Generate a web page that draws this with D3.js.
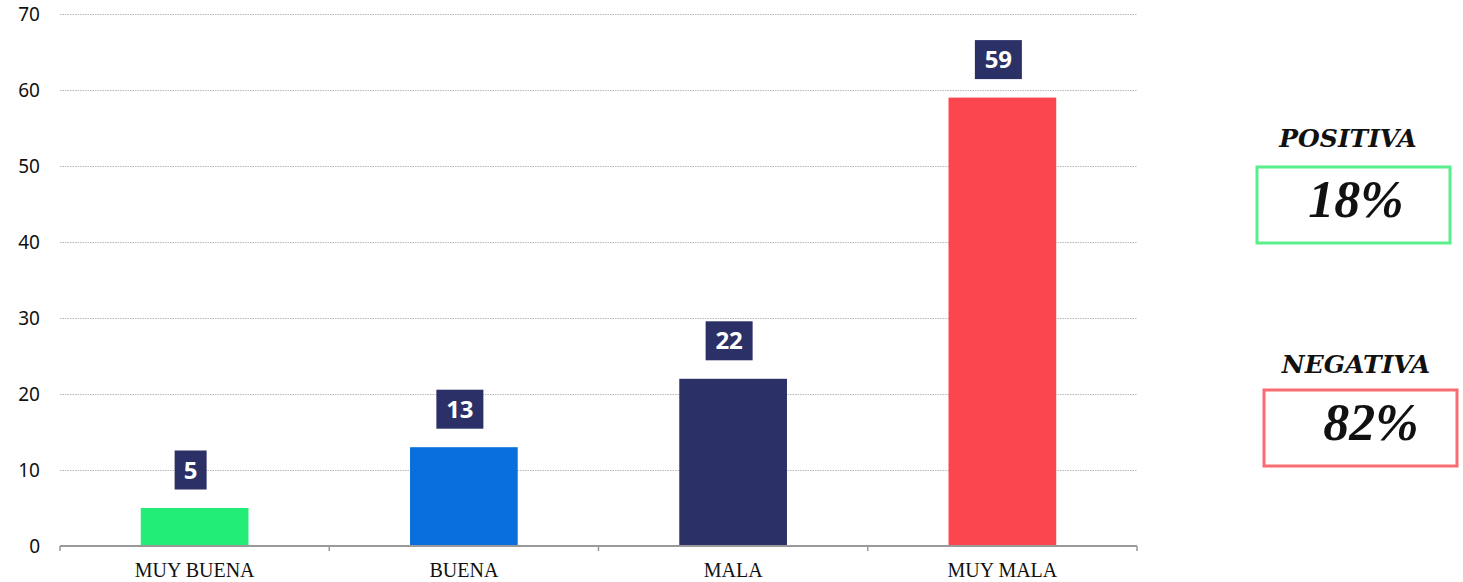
<!DOCTYPE html>
<html><head><meta charset="utf-8">
<script src="https://cdn.jsdelivr.net/npm/d3@7"></script>
<style>body{margin:0;background:#fff;}svg{display:block;}</style>
</head><body>
<svg id="c" width="1463" height="582"></svg>
<script>
const categories = ["MUY BUENA", "BUENA", "MALA", "MUY MALA"];
const values = [5, 13, 22, 59];
const barColors = ["#22EE77", "#0A6FDE", "#2B3166", "#FC464F"];
const yTicks = [0, 10, 20, 30, 40, 50, 60, 70];
const summaryLabels = ["POSITIVA", "NEGATIVA"];
const summaryValues = ["18%", "82%"];
const summaryColors = ["#3BEB78", "#F7545C"];

const svg = d3.select("#c");
const m = {left: 60, right: 1137, top: 14, bottom: 546};
const x = d3.scaleBand().domain(categories).range([m.left, m.right]).paddingInner(0.6).paddingOuter(0.3);
const xb = d3.scaleBand().domain(categories).range([m.left, m.right]);
const y = d3.scaleLinear().domain([0, 70]).range([m.bottom, m.top]);

// gridlines
svg.append("g").selectAll("line").data(yTicks.filter(d => d > 0)).join("line")
  .attr("x1", m.left).attr("x2", m.right)
  .attr("y1", d => y(d) + 0.5).attr("y2", d => y(d) + 0.5)
  .attr("stroke", "#b8b8b8").attr("stroke-width", 1).attr("stroke-dasharray", "1.5,1");

// y labels
const yAxis = d3.axisLeft(y).tickValues(yTicks).tickSize(0).tickPadding(20);
const gy = svg.append("g").attr("transform", `translate(${m.left},0)`).call(yAxis);
gy.select(".domain").remove();
gy.selectAll("text").attr("font-family", "Noto Sans, sans-serif").attr("font-size", 19).attr("fill", "#111");

// bars
svg.append("g").selectAll("rect").data(values).join("rect")
  .attr("x", (d, i) => x(categories[i]))
  .attr("width", x.bandwidth())
  .attr("y", d => y(d))
  .attr("height", d => y(0) - y(d))
  .attr("fill", (d, i) => barColors[i]);

// x axis
const xAxis = d3.axisBottom(xb).tickSize(0).tickPadding(17);
const gx = svg.append("g").attr("transform", `translate(0,${m.bottom})`).call(xAxis);
gx.select(".domain").attr("stroke", "#999").attr("stroke-width", 2).attr("d", `M${m.left},0H${m.right}`);
gx.selectAll("text").attr("font-family", "Liberation Serif, Times New Roman, serif").attr("font-size", 20).attr("fill", "#111");
const tickPos = categories.map(c => xb(c)).concat([m.right]);
gx.append("g").selectAll("line").data(tickPos).join("line")
  .attr("x1", d => d).attr("x2", d => d).attr("y1", 0).attr("y2", 5)
  .attr("stroke", "#999").attr("stroke-width", 1.5);

// value labels
const lg = svg.append("g").selectAll("g").data(values).join("g")
  .attr("transform", (d, i) => `translate(${x(categories[i]) + x.bandwidth() / 2 - 4},${y(d) - 38})`);
lg.each(function(d) {
  const g = d3.select(this);
  const w = String(d).length === 1 ? 32 : 47;
  g.append("rect").attr("x", -w / 2).attr("y", -19.5).attr("width", w).attr("height", 39).attr("fill", "#2B3166");
  g.append("text").text(d).attr("text-anchor", "middle").attr("dy", "0.36em").attr("x", 0)
    .attr("font-family", "Noto Sans, Open Sans, sans-serif").attr("font-weight", "bold").attr("font-size", 24).attr("fill", "#fff");
});

// summary panel
const boxes = [{lx: 1348, ly: 147, bx: 1257, by: 167, vx: 1356, vy: 217},
               {lx: 1356, ly: 373, bx: 1264, by: 390, vx: 1371, vy: 440}];
boxes.forEach((b, i) => {
  svg.append("text").text(summaryLabels[i]).attr("x", b.lx).attr("y", b.ly).attr("text-anchor", "middle")
    .attr("font-family", "DejaVu Serif, serif").attr("font-style", "italic").attr("font-weight", "bold")
    .attr("font-size", 25).attr("fill", "#111");
  svg.append("rect").attr("x", b.bx).attr("y", b.by).attr("width", 193).attr("height", 76)
    .attr("fill", "#fff").attr("stroke", summaryColors[i]).attr("stroke-width", 3).attr("stroke-opacity", 0.85);
  svg.append("text").text(summaryValues[i]).attr("x", b.vx).attr("y", b.vy).attr("text-anchor", "middle")
    .attr("font-family", "Liberation Serif, serif").attr("font-style", "italic").attr("font-weight", "bold")
    .attr("font-size", 52).attr("fill", "#111");
});
</script>
</body></html>
